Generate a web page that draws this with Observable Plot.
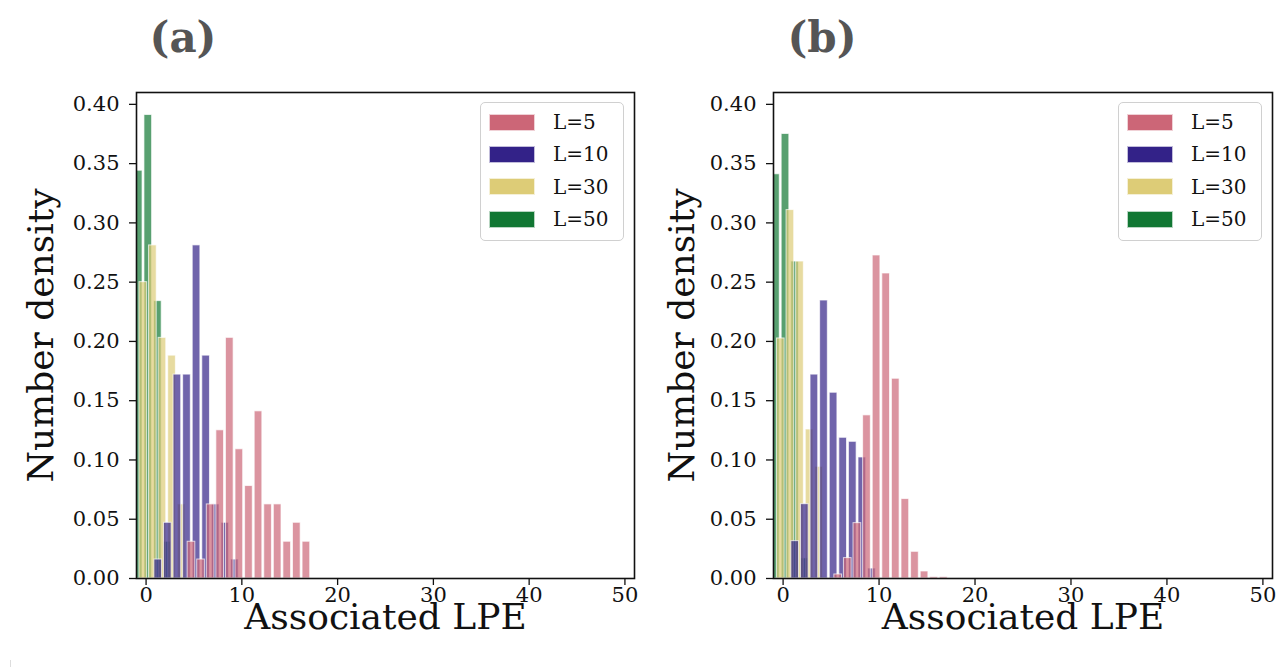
<!DOCTYPE html>
<html><head><meta charset="utf-8">
<script src="https://cdn.jsdelivr.net/npm/d3@7"></script>
<script src="https://cdn.jsdelivr.net/npm/@observablehq/plot@0.6"></script>
<style>
body{margin:0;background:#fff;}
#root{position:relative;width:1277px;height:667px;overflow:hidden;font-family:"DejaVu Serif",serif;background:#fff;}
.title{position:absolute;font-weight:bold;font-size:42px;color:#555;font-family:"DejaVu Serif",serif;transform:translateX(-50%);top:10px;line-height:56px;}
.legend{position:absolute;border:1.2px solid #d0d0d0;border-radius:5px;background:rgba(255,255,255,0.8);box-sizing:border-box;}
.row{position:absolute;left:8px;height:20px;display:flex;align-items:center;font-size:20px;color:#111;}
.patch{width:46px;height:17px;margin-right:18px;box-sizing:border-box;border:1px solid rgba(255,255,255,0.7);}
.vline{position:absolute;left:10px;top:75px;width:1px;height:600px;background:#ddd;}
.panel{position:absolute;top:60px;}
</style></head>
<body><div id="root"><div class="vline"></div></div>
<script>
// ---- data ----
const seriesNames = ["L=5", "L=10", "L=30", "L=50"];
const seriesColors = ["#CC6677", "#332288", "#DDCC77", "#117733"];
const xTicks = [0, 10, 20, 30, 40, 50];
const yTicks = [0, 0.05, 0.10, 0.15, 0.20, 0.25, 0.30, 0.35, 0.40];
const panelTitles = ["(a)", "(b)"];
const xLabel = "Associated LPE";
const yLabel = "Number density";

// panel (a): bin left edges and densities
const aL5Edges = [4.34, 5.34, 6.34, 7.34, 8.34, 9.34, 10.34, 11.34, 12.34, 13.34, 14.34, 15.34, 16.34];
const aL5Dens = [0.031, 0.016, 0.0625, 0.125, 0.203, 0.109, 0.078, 0.141, 0.0625, 0.0625, 0.031, 0.047, 0.031];
const aL10Edges = [0.87, 1.87, 2.87, 3.87, 4.87, 5.87, 6.87, 7.87, 8.87];
const aL10Dens = [0.016, 0.047, 0.172, 0.172, 0.281, 0.188, 0.0625, 0.047, 0.016];
const aL30Edges = [-0.69, 0.31, 1.31, 2.31, 3.31];
const aL30Dens = [0.25, 0.281, 0.203, 0.188, 0.0625];
const aL50Edges = [-1.17, -0.17, 0.83, 1.83];
const aL50Dens = [0.344, 0.391, 0.234, 0.031];

// panel (b)
const bL5Edges = [5.34, 6.34, 7.34, 8.34, 9.34, 10.34, 11.34, 12.34, 13.34, 14.34, 15.34, 16.34];
const bL5Dens = [0.0034, 0.0172, 0.0467, 0.1376, 0.2725, 0.2573, 0.1685, 0.067, 0.0225, 0.0059, 0.0012, 0.0012];
const bL10Edges = [0.86, 1.86, 2.86, 3.86, 4.86, 5.86, 6.86, 7.86, 8.86];
const bL10Dens = [0.0315, 0.0627, 0.172, 0.2345, 0.1567, 0.1187, 0.1153, 0.1021, 0.0084];
const bL30Edges = [-0.64, 0.36, 1.36, 2.36, 3.36];
const bL30Dens = [0.2025, 0.3108, 0.2674, 0.1257, 0.0942];
const bL50Edges = [-1.15, -0.15, 0.85, 1.85];
const bL50Dens = [0.341, 0.375, 0.2674, 0.017];

const barWidth = 0.8;

function toBars(edges, dens) {
  return edges.map((e, i) => ({x1: e, x2: e + barWidth, y: dens[i]}));
}

const panelA = [toBars(aL5Edges, aL5Dens), toBars(aL10Edges, aL10Dens), toBars(aL30Edges, aL30Dens), toBars(aL50Edges, aL50Dens)];
const panelB = [toBars(bL5Edges, bL5Dens), toBars(bL10Edges, bL10Dens), toBars(bL30Edges, bL30Dens), toBars(bL50Edges, bL50Dens)];

function makePanel(series, cfg) {
  // draw order reversed: L=50 first, L=5 on top
  const order = [3, 2, 1, 0];
  return Plot.plot({
    width: cfg.width, height: 600,
    marginLeft: cfg.ml, marginRight: cfg.mr, marginTop: 32, marginBottom: 82,
    x: {domain: [-1, 51]},
    y: {domain: [0, 0.41]},
    style: {fontFamily: "DejaVu Serif", fontSize: "21px", color: "#111", background: "white", overflow: "visible"},
    marks: [
      ...order.map(k => Plot.rect(series[k], {
        x1: "x1", x2: "x2", y1: 0, y2: "y",
        fill: seriesColors[k], fillOpacity: 0.7,
        stroke: "white", strokeWidth: 1, strokeOpacity: 0.7, clip: true
      })),
      Plot.frame({stroke: "#111", strokeWidth: 1.6}),
      Plot.axisX({ticks: xTicks, tickSize: 7, tickPadding: 2, label: null, fontSize: 21, strokeWidth: 1.3}),
      Plot.axisY({ticks: yTicks, tickFormat: d3.format(".2f"), tickSize: 7, tickPadding: 10, label: null, fontSize: 21, strokeWidth: 1.3}),
      Plot.text([xLabel], {text: d => d, frameAnchor: "bottom", dy: 25, lineAnchor: "top", textAnchor: "middle", fontSize: 36}),
      Plot.text([yLabel], {text: d => d, frameAnchor: "left", dx: cfg.ylabDx, rotate: -90, lineAnchor: "middle", textAnchor: "middle", fontSize: 36})
    ]
  });
}

const root = document.getElementById("root");

const cfgs = [
  {left: 0, width: 640, ml: 136, mr: 6, ylabDx: -95, title: 183, legLeft: 480},
  {left: 640, width: 637, ml: 133, mr: 5, ylabDx: -91, title: 822, legLeft: 1118}
];
[panelA, panelB].forEach((series, p) => {
  const cfg = cfgs[p];
  const div = document.createElement("div");
  div.className = "panel";
  div.style.left = cfg.left + "px";
  div.appendChild(makePanel(series, cfg));
  root.appendChild(div);

  const t = document.createElement("div");
  t.className = "title";
  t.style.left = cfg.title + "px";
  t.textContent = panelTitles[p];
  root.appendChild(t);

  const leg = document.createElement("div");
  leg.className = "legend";
  leg.style.left = cfg.legLeft + "px";
  leg.style.top = "102px";
  leg.style.width = "144px";
  leg.style.height = "139px";
  seriesNames.forEach((name, i) => {
    const row = document.createElement("div");
    row.className = "row";
    row.style.top = (9 + i * 32.4) + "px";
    const patch = document.createElement("div");
    patch.className = "patch";
    patch.style.background = seriesColors[i];
    const lab = document.createElement("span");
    lab.textContent = name;
    row.appendChild(patch);
    row.appendChild(lab);
    leg.appendChild(row);
  });
  root.appendChild(leg);
});
</script>
</body></html>
